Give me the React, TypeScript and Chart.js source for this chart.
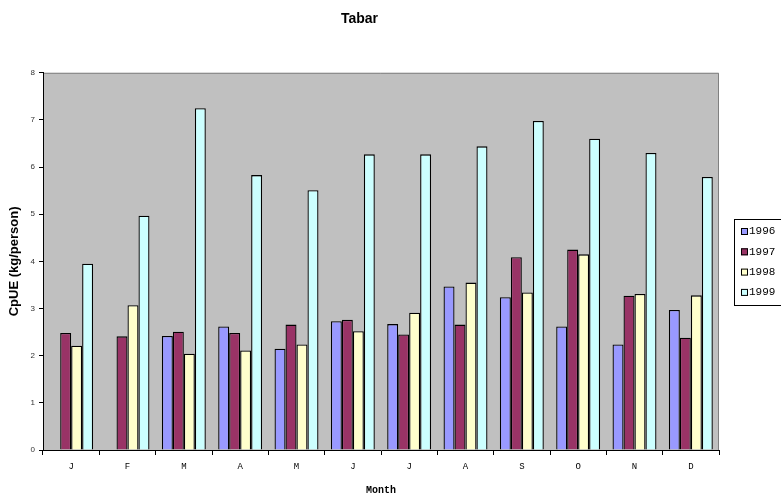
import React, { useEffect, useRef } from "react";
import { Chart, registerables } from "chart.js";

Chart.register(...registerables);

const months = ["J", "F", "M", "A", "M", "J", "J", "A", "S", "O", "N", "D"];
const years = ["1996", "1997", "1998", "1999"];
const v1996 = [null, null, 2.42, 2.62, 2.15, 2.73, 2.67, 3.47, 3.24, 2.62, 2.24, 2.97];
const v1997 = [2.48, 2.41, 2.51, 2.48, 2.66, 2.76, 2.45, 2.66, 4.09, 4.25, 3.27, 2.38];
const v1998 = [2.21, 3.07, 2.04, 2.11, 2.24, 2.52, 2.91, 3.55, 3.34, 4.15, 3.31, 3.28];
const v1999 = [3.95, 4.97, 7.25, 5.83, 5.51, 6.27, 6.27, 6.44, 6.98, 6.6, 6.3, 5.79];
const yTicks = [0, 1, 2, 3, 4, 5, 6, 7, 8];
const colors = ["#9999FF", "#993366", "#FFFFCC", "#CCFFFF"];

const plotBg = {
  id: "plotBg",
  beforeDraw(chart: any) {
    const { ctx, chartArea: a } = chart;
    ctx.save();
    ctx.fillStyle = "#C0C0C0";
    ctx.fillRect(a.left, a.top, a.right - a.left, a.bottom - a.top);
    ctx.strokeStyle = "#808080";
    ctx.lineWidth = 1;
    ctx.beginPath();
    ctx.moveTo(a.left, a.top + 0.5);
    ctx.lineTo(a.right - 0.5, a.top + 0.5);
    ctx.lineTo(a.right - 0.5, a.bottom);
    ctx.stroke();
    ctx.restore();
  },
};

const customLegend = {
  id: "customLegend",
  afterDraw(chart: any) {
    const { ctx } = chart;
    ctx.save();
    ctx.strokeStyle = "#000";
    ctx.lineWidth = 1;
    ctx.strokeRect(734.5, 219.5, 60, 86);
    ctx.font = "11px 'Liberation Mono', 'DejaVu Sans Mono', monospace";
    ctx.textBaseline = "middle";
    ctx.textAlign = "left";
    chart.data.datasets.forEach((ds: any, i: number) => {
      const cy = 231 + i * 20.3;
      ctx.fillStyle = ds.backgroundColor;
      ctx.fillRect(741, cy - 3, 7, 7);
      ctx.strokeStyle = "#000";
      ctx.strokeRect(741.5, cy - 2.5, 6, 6);
      ctx.fillStyle = "#000";
      ctx.fillText(ds.label, 749, cy + 0.5);
    });
    ctx.restore();
  },
};

export default function App() {
  const ref = useRef<HTMLCanvasElement>(null);
  useEffect(() => {
    if (!ref.current) return;
    const series = [v1996, v1997, v1998, v1999];
    const chart = new Chart(ref.current, {
      type: "bar",
      data: {
        labels: months,
        datasets: years.map((y, i) => ({
          label: y,
          data: series[i] as any,
          backgroundColor: colors[i],
          borderColor: "#000000",
          borderWidth: 1.3,
          barPercentage: 1,
          categoryPercentage: 0.78,
        })),
      },
      options: {
        responsive: false,
        animation: false,
        layout: { padding: { right: 62, left: 0, top: 0, bottom: 0 } },
        plugins: {
          legend: { display: false },
          tooltip: { enabled: false },
          title: {
            display: true,
            text: "Tabar",
            color: "#000",
            font: { family: "'Liberation Sans', Arial, sans-serif", size: 14, weight: "bold" },
            padding: { top: 11, bottom: 45 },
          },
        },
        scales: {
          x: {
            afterFit(s: any) { s.height = 48; },
            grid: { drawOnChartArea: false, color: "#000", tickLength: 5, offset: true },
            border: { color: "#000", width: 1 },
            ticks: {
              color: "#000",
              padding: 6,
              maxRotation: 0,
              font: { family: "'Liberation Mono', 'DejaVu Sans Mono', monospace", size: 9 },
            },
            title: {
              display: true,
              text: "Month",
              color: "#000",
              font: { family: "'Liberation Mono', 'DejaVu Sans Mono', monospace", size: 10, weight: "bold" },
              padding: { top: 0, bottom: 2 },
            },
          },
          y: {
            min: 0,
            max: 8,
            afterFit(s: any) { s.width = 43; },
            afterBuildTicks(s: any) { s.ticks = yTicks.map((v) => ({ value: v })); },
            grid: { drawOnChartArea: false, color: "#000", tickLength: 4 },
            border: { color: "#000", width: 1 },
            ticks: {
              color: "#333",
              padding: 4,
              font: { family: "'Liberation Sans', Arial, sans-serif", size: 8 },
            },
            title: {
              display: true,
              text: "CpUE (kg/person)",
              color: "#000",
              font: { family: "'Liberation Sans', Arial, sans-serif", size: 13, weight: "bold" },
              padding: { top: 7, bottom: 0 },
            },
          },
        },
      },
      plugins: [plotBg, customLegend],
    });
    return () => chart.destroy();
  }, []);
  return (
    <div style={{ position: "fixed", left: 0, top: 0, width: 781, height: 498, background: "#fff" }}>
      <canvas ref={ref} width={781} height={498} style={{ display: "block" }} />
    </div>
  );
}
